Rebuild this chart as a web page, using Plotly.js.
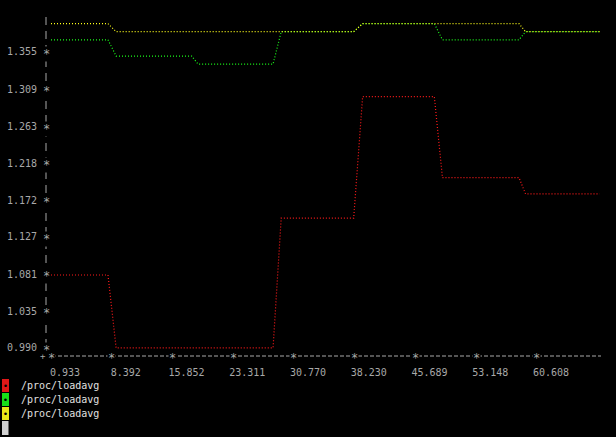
<!DOCTYPE html>
<html>
<head>
<meta charset="utf-8">
<script src="https://cdn.plot.ly/plotly-3.0.1.min.js"></script>
<style>
html,body{margin:0;padding:0;background:#000;}
#chart{width:616px;height:437px;}
</style>
</head>
<body>
<div id="chart"></div>
<script>
// ---- data ----
const seriesNames = ['/proc/loadavg', '/proc/loadavg', '/proc/loadavg'];

const redT = [0.933, 7.93, 8.93, 28.2, 29.2, 38.1, 39.2, 48.0, 49.0, 58.4, 59.2, 68.3];
const redV = [1.08, 1.08, 0.99, 0.99, 1.15, 1.15, 1.30, 1.30, 1.20, 1.20, 1.18, 1.18];

const greenT = [0.933, 7.93, 8.93, 18.2, 19.0, 28.2, 29.2, 38.1, 39.2, 48.0, 49.0, 58.4, 59.2, 68.3];
const greenV = [1.37, 1.37, 1.35, 1.35, 1.34, 1.34, 1.38, 1.38, 1.39, 1.39, 1.37, 1.37, 1.38, 1.38];

const yellowT = [0.933, 7.93, 8.93, 38.1, 39.2, 58.4, 59.2, 68.3];
const yellowV = [1.39, 1.39, 1.38, 1.38, 1.39, 1.39, 1.38, 1.38];

const xTickVals = [0.933, 8.392, 15.852, 23.311, 30.770, 38.230, 45.689, 53.148, 60.608];
const xTickText = ['0.933', '8.392', '15.852', '23.311', '30.770', '38.230', '45.689', '53.148', '60.608'];
const yTickVals = [0.990, 1.035, 1.081, 1.127, 1.172, 1.218, 1.263, 1.309, 1.355];
const yTickText = ['0.990', '1.035', '1.081', '1.127', '1.172', '1.218', '1.263', '1.309', '1.355'];

// ---- styles ----
const seriesColors = ['#ff1a1a', '#1aff1a', '#ffff1a'];
const boxColors = ['#e01818', '#18e018', '#e8e818'];
const axisGrey = '#a8a8a8';
const legendText = '#e0e0e0';
const mono = 'DejaVu Sans Mono, Liberation Mono, monospace';

// plot area in pixels: left 46, right 601, top 12, bottom 356
const W = 616, H = 437, L = 46, R = 15, T = 12, B = 81;
const pw = W - L - R, ph = H - T - B;
const px2paperX = p => (p - L) / pw;
const px2paperY = p => (H - B - p) / ph;

const dotLine = c => ({color: c, width: 1.2, dash: '1px,2px'});
const traces = [
  {x: redT, y: redV, name: seriesNames[0], mode: 'lines', line: dotLine(seriesColors[0])},
  {x: greenT, y: greenV, name: seriesNames[1], mode: 'lines', line: dotLine(seriesColors[1])},
  {x: yellowT, y: yellowV, name: seriesNames[2], mode: 'lines', line: dotLine(seriesColors[2])}
].map(t => Object.assign(t, {showlegend: false, hoverinfo: 'skip'}));

const annotations = [];
// y-axis tick stars
yTickVals.forEach(v => annotations.push({
  xref: 'paper', yref: 'y', x: 0, y: v, text: '*', showarrow: false,
  xanchor: 'center', yanchor: 'middle', yshift: -2, borderpad: 0, bgcolor: '#000',
  font: {family: mono, size: 12, color: axisGrey}
}));
// x-axis tick stars
xTickVals.forEach(v => annotations.push({
  xref: 'x', yref: 'paper', x: v, y: 0, text: '*', showarrow: false,
  xanchor: 'center', yanchor: 'middle', yshift: -2, borderpad: 0, bgcolor: '#000',
  font: {family: mono, size: 12, color: axisGrey}
}));
// origin '+'
annotations.push({
  xref: 'paper', yref: 'paper', x: 0, y: 0, text: '+', showarrow: false,
  xanchor: 'right', yanchor: 'middle', xshift: 1, borderpad: 0,
  font: {family: mono, size: 9, color: axisGrey}
});
// legend
const legendRowsPx = [385.5, 399.5, 413.5];
seriesNames.forEach((n, i) => {
  annotations.push({
    xref: 'paper', yref: 'paper', x: px2paperX(5), y: px2paperY(legendRowsPx[i]),
    text: '•', showarrow: false, xanchor: 'center', yanchor: 'middle',
    width: 7, height: 13, borderpad: 0, borderwidth: 0, bgcolor: boxColors[i],
    font: {family: mono, size: 9, color: '#000'}
  });
  annotations.push({
    xref: 'paper', yref: 'paper', x: px2paperX(18.5), y: px2paperY(legendRowsPx[i]),
    text: n, showarrow: false, xanchor: 'left', yanchor: 'middle',
    font: {family: mono, size: 10, color: legendText}
  });
});

const shapes = [
  // dashed y axis
  {type: 'line', xref: 'paper', yref: 'paper', x0: 0, x1: 0, y0: px2paperY(17), y1: 0,
   line: {color: axisGrey, width: 1, dash: '8px,6px'}, layer: 'below'},
  // dashed x axis
  {type: 'line', xref: 'paper', yref: 'paper', x0: 0, x1: 1, y0: 0, y1: 0,
   line: {color: axisGrey, width: 1, dash: '4px,2px'}, layer: 'below'},
  // grey cursor block under the legend
  {type: 'rect', xref: 'paper', yref: 'paper', x0: px2paperX(2), x1: px2paperX(8.5),
   y0: px2paperY(435), y1: px2paperY(421), line: {width: 0}, fillcolor: '#d0d0d0'}
];

const layout = {
  width: W, height: H,
  margin: {l: L, r: R, t: T, b: B, pad: 0},
  paper_bgcolor: '#000', plot_bgcolor: '#000',
  showlegend: false,
  xaxis: {
    range: [0.319, 68.468], tickmode: 'array', tickvals: xTickVals, ticktext: xTickText,
    showgrid: false, zeroline: false, showline: false,
    ticks: 'outside', ticklen: 7, tickcolor: 'rgba(0,0,0,0)',
    ticklabelshift: 14,
    tickfont: {family: mono, size: 10, color: axisGrey}
  },
  yaxis: {
    range: [0.9801, 1.4043], tickmode: 'array', tickvals: yTickVals, ticktext: yTickText,
    showgrid: false, zeroline: false, showline: false,
    ticks: 'outside', ticklen: 6, tickcolor: 'rgba(0,0,0,0)',
    tickfont: {family: mono, size: 10, color: axisGrey}
  },
  annotations: annotations,
  shapes: shapes
};

Plotly.newPlot('chart', traces, layout, {staticPlot: true, displayModeBar: false});
</script>
</body>
</html>
